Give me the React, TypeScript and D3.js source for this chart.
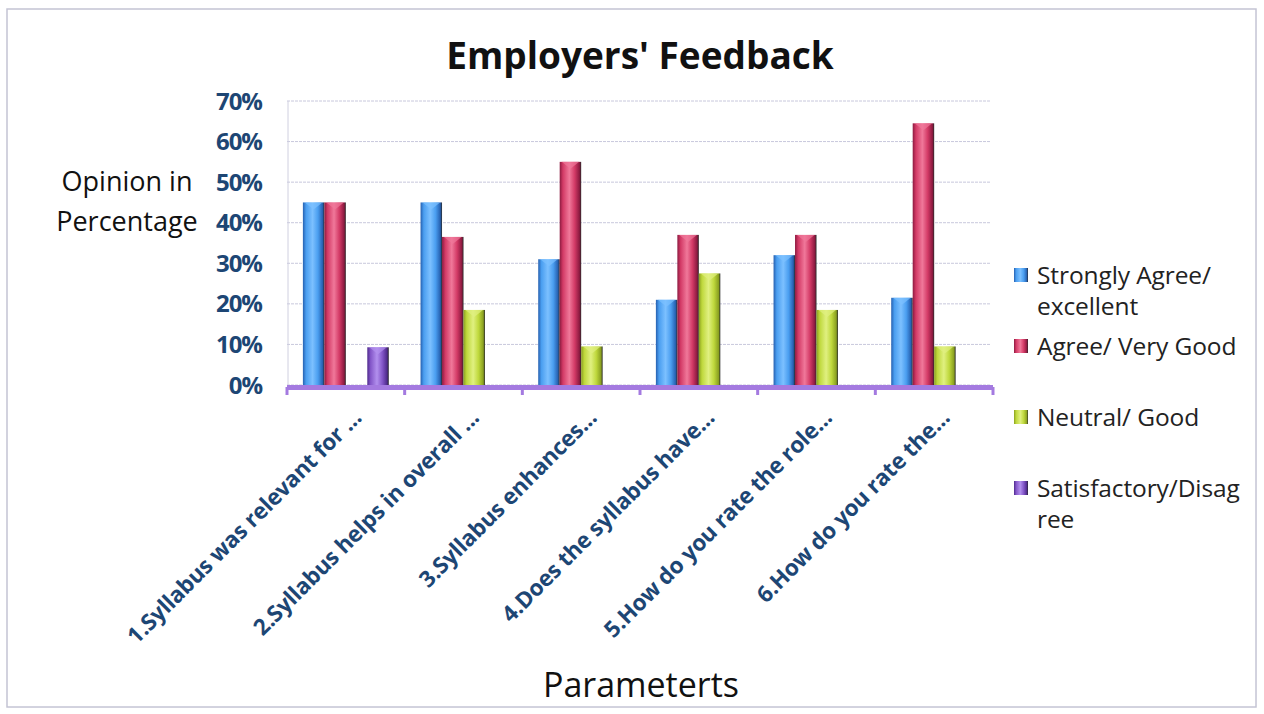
import React from "react";
import * as d3 from "d3";

const categories = [
  "1.Syllabus was relevant for ...",
  "2.Syllabus helps in overall ...",
  "3.Syllabus enhances...",
  "4.Does the syllabus have...",
  "5.How do you rate the role...",
  "6.How do you rate the...",
];
const seriesNames = [
  "Strongly Agree/ excellent",
  "Agree/ Very Good",
  "Neutral/ Good",
  "Satisfactory/Disagree",
];
const legendLines = [
  ["Strongly Agree/", "excellent"],
  ["Agree/ Very Good"],
  ["Neutral/ Good"],
  ["Satisfactory/Disag", "ree"],
];
const stronglyAgree = [0.45, 0.45, 0.31, 0.21, 0.32, 0.215];
const agree = [0.45, 0.365, 0.55, 0.37, 0.37, 0.645];
const neutral = [0, 0.185, 0.095, 0.275, 0.185, 0.095];
const satisfactory = [0.093, 0, 0, 0, 0, 0];
const yTicks = [0, 0.1, 0.2, 0.3, 0.4, 0.5, 0.6, 0.7];

const seriesValues = [stronglyAgree, agree, neutral, satisfactory];
const colors = [
  { dark: "#2660b0", mid: "#4a9ef0", light: "#7cc0ff" },
  { dark: "#8c1a40", mid: "#d33a66", light: "#f0789a" },
  { dark: "#8aa020", mid: "#bfd83c", light: "#e0f080" },
  { dark: "#4e2a8c", mid: "#8356c8", light: "#b290ee" },
];

const FONT = "'Open Sans', 'Liberation Sans', sans-serif";
const NAVY = "#1d4674";

export default function App() {
  const W = 1264, H = 714;
  const left = 287, right = 993, top = 101, bottom = 385;
  const x0 = d3.scaleBand<string>().domain(categories).range([left, right]).padding(0);
  const x1 = d3.scaleBand<string>().domain(seriesNames).range([0, x0.bandwidth()]).paddingInner(0).paddingOuter(0.74);
  const y = d3.scaleLinear().domain([0, 0.7]).range([bottom, top]);
  const tickXs = categories.map((c) => x0(c)!).concat([right]);

  return (
    <svg width={W} height={H} style={{ position: "absolute", left: 0, top: 0, background: "#fff" }}>
      <defs>
        {colors.map((c, i) => (
          <linearGradient key={i} id={`g${i}`} x1="0" x2="1" y1="0" y2="0">
            <stop offset="0" stopColor={c.dark} />
            <stop offset="0.15" stopColor={c.mid} />
            <stop offset="0.45" stopColor={c.light} />
            <stop offset="0.7" stopColor={c.mid} />
            <stop offset="0.92" stopColor={c.dark} />
            <stop offset="1" stopColor="#2a2a2a" />
          </linearGradient>
        ))}
      </defs>
      <rect x={7} y={9} width={1249} height={698} fill="none" stroke="#c4c4d4" strokeWidth={1.5} />
      <text x={640} y={69} textAnchor="middle" fontFamily={FONT} fontWeight="bold" fontSize={37} fill="#111">
        Employers' Feedback
      </text>
      {/* gridlines */}
      {yTicks.map((t) => (
        <line key={t} x1={left} x2={right - 3} y1={y(t)} y2={y(t)} stroke="#c8c8dc" strokeWidth={1} strokeDasharray="3,1" />
      ))}
      <line x1={left + 1} x2={left + 1} y1={top} y2={bottom} stroke="#d0d0e0" strokeWidth={1} />
      {yTicks.map((t) => (
        <text key={t} x={262} y={y(t)} dy="0.36em" textAnchor="end" fontFamily={FONT} fontWeight="bold" fontSize={24} letterSpacing={-1} fill={NAVY}>
          {d3.format(".0%")(t)}
        </text>
      ))}
      <text x={127} y={191} textAnchor="middle" fontFamily={FONT} fontSize={27} fill="#111">Opinion in</text>
      <text x={127} y={231} textAnchor="middle" fontFamily={FONT} fontSize={27} fill="#111">Percentage</text>
      {/* bars */}
      {categories.map((c, ci) =>
        seriesNames.map((s, si) => {
          const v = seriesValues[si][ci];
          if (!v) return null;
          const bx = x0(c)! + x1(s)!;
          const bw = x1.bandwidth();
          const by = y(v);
          return (
            <g key={`${ci}-${si}`}>
              <rect x={bx} y={by} width={bw} height={bottom - by} fill={`url(#g${si})`} />
              <polygon
                points={`${bx + 2},${by} ${bx + bw - 2},${by} ${bx + bw / 2},${by + 7}`}
                fill={colors[si].light}
                opacity={0.7}
              />
            </g>
          );
        })
      )}
      {/* x axis */}
      <line x1={left} x2={right} y1={bottom + 2.5} y2={bottom + 2.5} stroke="#a47ae0" strokeWidth={5} />
      {tickXs.map((tx, i) => (
        <line key={i} x1={tx} x2={tx} y1={bottom + 2} y2={bottom + 10} stroke="#a47ae0" strokeWidth={3} />
      ))}
      {categories.map((c) => {
        const cx = x0(c)! + x0.bandwidth() / 2;
        return (
          <text key={c} transform={`translate(${cx + 17},${419}) rotate(-45)`} textAnchor="end" fontFamily={FONT} fontWeight="bold" fontSize={22.5} letterSpacing={-0.2} fill={NAVY}>
            {c}
          </text>
        );
      })}
      <text x={641} y={697} textAnchor="middle" fontFamily={FONT} fontSize={34} fill="#111">Parameterts</text>
      {/* legend */}
      {legendLines.map((lines, i) => {
        const ly = 284 + i * 71;
        return (
          <g key={i}>
            <rect x={1014} y={ly - 16} width={14} height={14} fill={`url(#g${i})`} />
            {lines.map((ln, j) => (
              <text key={j} x={1037} y={ly + j * 31} fontFamily={FONT} fontSize={24.5} letterSpacing={-0.1} fill="#222">{ln}</text>
            ))}
          </g>
        );
      })}
    </svg>
  );
}
